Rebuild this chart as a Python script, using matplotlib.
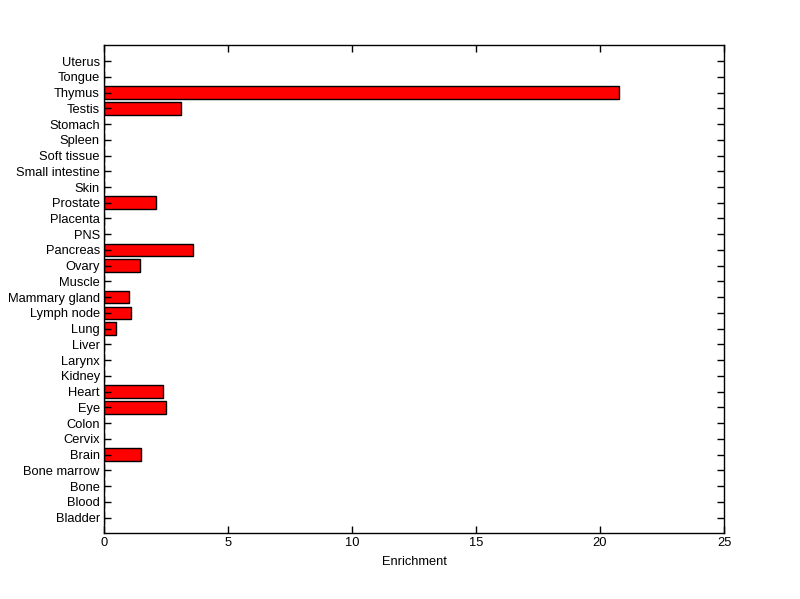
import matplotlib
matplotlib.use("Agg")
import matplotlib.pyplot as plt

# tissues, bottom to top
tissues = ['Bladder', 'Blood', 'Bone', 'Bone marrow', 'Brain', 'Cervix', 'Colon',
           'Eye', 'Heart', 'Kidney', 'Larynx', 'Liver', 'Lung', 'Lymph node',
           'Mammary gland', 'Muscle', 'Ovary', 'Pancreas', 'PNS', 'Placenta',
           'Prostate', 'Skin', 'Small intestine', 'Soft tissue', 'Spleen',
           'Stomach', 'Testis', 'Thymus', 'Tongue', 'Uterus']
enrichment = [0, 0, 0, 0, 1.51, 0, 0,
              2.50, 2.38, 0, 0, 0, 0.48, 1.09,
              1.01, 0, 1.45, 3.59, 0, 0,
              2.10, 0, 0, 0, 0,
              0, 3.12, 20.77, 0, 0]

plt.rcParams['font.family'] = ['Liberation Sans', 'DejaVu Sans']

fig = plt.figure(figsize=(8, 5.99), dpi=100)
ax = fig.add_axes([0.130, 0.1097, 0.775, 0.8146])

pos = list(range(1, len(tissues) + 1))
ax.barh(pos, enrichment, height=0.8, color='#ff0000', edgecolor='black', linewidth=1)

ax.set_xlim(0, 25)
ax.set_ylim(0, len(tissues) + 1)
ax.set_xticks([0, 5, 10, 15, 20, 25])
ax.set_yticks(pos)
ax.set_yticklabels(tissues)
ax.tick_params(direction='in', top=True, right=True, labelsize=9.3, length=5, width=1, pad=3)
ax.set_xlabel('Enrichment', fontsize=9.3, labelpad=5)
for s in ax.spines.values():
    s.set_linewidth(1)

fig.savefig('out.png', dpi=100)
